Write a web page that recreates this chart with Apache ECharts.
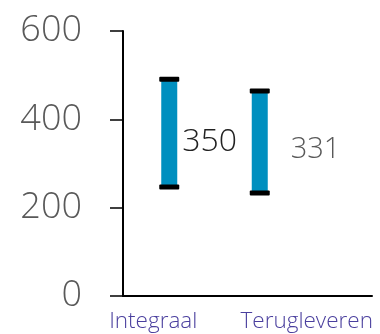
<!DOCTYPE html>
<html>
<head>
<meta charset="utf-8">
<script src="https://cdn.jsdelivr.net/npm/echarts@6/dist/echarts.min.js"></script>
<style>
  html, body { margin: 0; padding: 0; background: #fff; }
  #chart { width: 380px; height: 334px; }
</style>
</head>
<body>
<div id="chart"></div>
<script>
// data
var categories = ["Integraal", "Terugleveren"]
var lowValues = [247, 233]
var highValues = [491, 464]
var labelValues = [350, 331]
var yTicks = [0, 200, 400, 600]

// layout per category (pixels)
var barShift = [-16, -50]
var labelGap = [13, 31]
var labelColor = ["#222222", "#595959"]
var labelSize = [32, 29]

var myChart = echarts.init(document.getElementById("chart"))

var option = {
  animation: false,
  grid: { left: 123, right: 8, top: 31, bottom: 38 },
  xAxis: {
    type: "category",
    data: categories,
    axisTick: { show: false },
    axisLine: { lineStyle: { color: "#000", width: 2 } },
    axisLabel: {
      margin: 14,
      formatter: function (v, i) {
        return i === 0 ? "{a|" + v + "}" : "{b|" + v + "}"
      },
      rich: {
        a: { fontFamily: "Open Sans", fontWeight: 300, fontSize: 22.5, color: "#4a3f9e", padding: [0, 64, 0, 0] },
        b: { fontFamily: "Open Sans", fontWeight: 300, fontSize: 22.5, color: "#4a3f9e", padding: [0, 6, 0, 0] }
      }
    }
  },
  yAxis: {
    type: "value",
    min: yTicks[0],
    max: yTicks[yTicks.length - 1],
    interval: 200,
    splitLine: { show: false },
    axisLine: { show: true, lineStyle: { color: "#000", width: 2 } },
    axisTick: { show: true, length: 13, lineStyle: { color: "#000", width: 1.5 } },
    axisLabel: {
      margin: 41,
      fontFamily: "Open Sans",
      fontWeight: 300,
      fontSize: 36,
      color: "#595959"
    }
  },
  series: [
    {
      type: "custom",
      data: categories.map(function (c, i) {
        return [i, lowValues[i], highValues[i], labelValues[i]]
      }),
      renderItem: function (params, api) {
        var i = api.value(0)
        var top = api.coord([i, api.value(2)])
        var bottom = api.coord([i, api.value(1)])
        var mid = api.coord([i, api.value(3)])
        var x = top[0] + barShift[i]
        return {
          type: "group",
          children: [
            {
              type: "rect",
              shape: { x: x - 8, y: top[1], width: 16, height: bottom[1] - top[1] },
              style: { fill: "#008fbf" }
            },
            {
              type: "rect",
              shape: { x: x - 10, y: top[1] - 2.5, width: 20, height: 5, r: 1 },
              style: { fill: "#000" }
            },
            {
              type: "rect",
              shape: { x: x - 10, y: bottom[1] - 2.5, width: 20, height: 5, r: 1 },
              style: { fill: "#000" }
            },
            {
              type: "text",
              x: x + labelGap[i],
              y: mid[1],
              style: {
                text: String(api.value(3)),
                fill: labelColor[i],
                fontSize: labelSize[i],
                fontWeight: 300,
                fontFamily: "Open Sans",
                align: "left",
                verticalAlign: "middle"
              }
            }
          ]
        }
      }
    }
  ]
}

myChart.setOption(option)
</script>
</body>
</html>
